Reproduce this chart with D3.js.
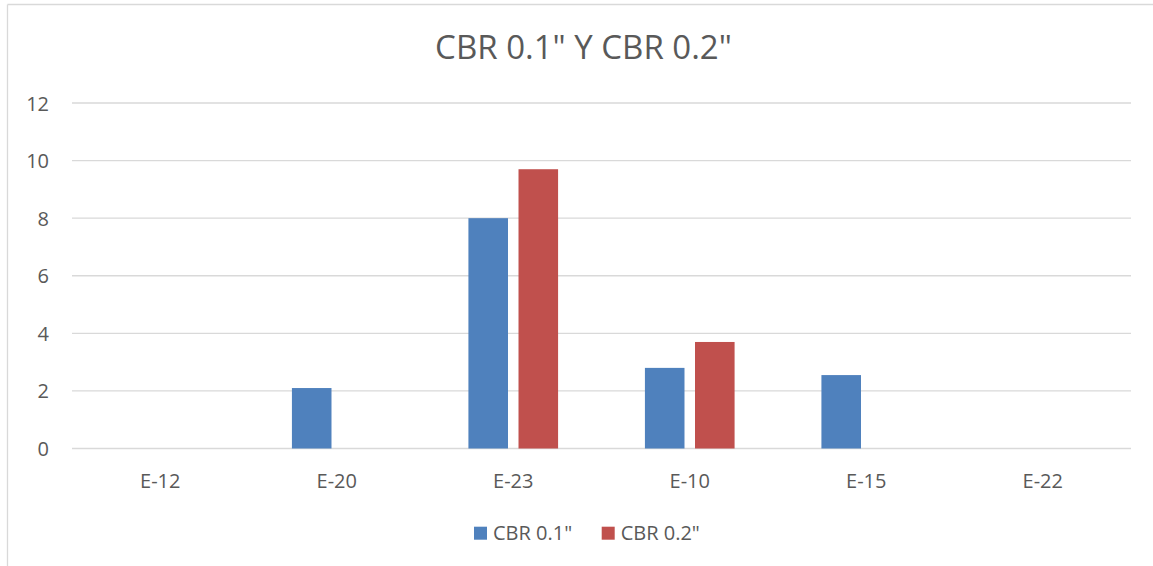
<!DOCTYPE html>
<html>
<head>
<meta charset="utf-8">
<script src="https://cdn.jsdelivr.net/npm/d3@7"></script>
<style>
  html, body { margin: 0; padding: 0; background: #fff; }
  svg { display: block; }
  text { font-family: "Open Sans", "Liberation Sans", sans-serif; fill: #595959; }
</style>
</head>
<body>
<svg id="chart" width="1153" height="566"></svg>
<script>
// Chart data
const title = "CBR 0.1\" Y CBR 0.2\"";
const categories = ["E-12", "E-20", "E-23", "E-10", "E-15", "E-22"];
const seriesNames = ["CBR 0.1\"", "CBR 0.2\""];
const cbr01 = [null, 2.1, 8.0, 2.8, 2.55, null];
const cbr02 = [null, null, 9.7, 3.7, null, null];
const yTicks = [0, 2, 4, 6, 8, 10, 12];
const colors = ["#4f81bd", "#c0504d"];

const svg = d3.select("#chart");
const W = 1153, H = 566;

// Chart frame (light border on top and left)
svg.append("line").attr("x1", 7.5).attr("x2", W).attr("y1", 4.5).attr("y2", 4.5)
  .attr("stroke", "#d9d9d9").attr("stroke-width", 1.3);
svg.append("line").attr("x1", 7.5).attr("x2", 7.5).attr("y1", 4.5).attr("y2", H)
  .attr("stroke", "#d9d9d9").attr("stroke-width", 1.3);

const plot = { left: 72, right: 1131, top: 103, bottom: 448.5 };

const x = d3.scaleBand().domain(categories).range([plot.left, plot.right]).padding(0);
const groupW = x.bandwidth() * 0.508;
const xs = d3.scaleBand().domain(seriesNames).range([0, groupW]).paddingInner(0.21);
const y = d3.scaleLinear().domain([0, 12]).range([plot.bottom, plot.top]);

// Gridlines
svg.append("g").selectAll("line").data(yTicks).join("line")
  .attr("x1", plot.left).attr("x2", plot.right)
  .attr("y1", d => y(d)).attr("y2", d => y(d))
  .attr("stroke", "#d9d9d9").attr("stroke-width", 1.3);

// Y axis labels
const yAxis = d3.axisLeft(y).tickValues(yTicks).tickSize(0).tickPadding(0);
const gy = svg.append("g").attr("transform", "translate(49,0)").call(yAxis);
gy.select(".domain").remove();
gy.selectAll("text").attr("font-size", 20).attr("font-family", "Open Sans").attr("fill", "#595959").attr("dy", "0.35em");

// X axis labels
const xAxis = d3.axisBottom(x).tickSize(0).tickPadding(0);
const gx = svg.append("g").attr("transform", "translate(0,488)").call(xAxis);
gx.select(".domain").remove();
gx.selectAll("text").attr("font-size", 20).attr("font-family", "Open Sans").attr("fill", "#595959").attr("dy", 0);

// Bars
const seriesData = [cbr01, cbr02];
seriesData.forEach((vals, si) => {
  const rows = categories.map((c, i) => ({ c, v: vals[i] })).filter(d => d.v != null);
  svg.append("g").selectAll("rect").data(rows).join("rect")
    .attr("x", d => x(d.c) + (x.bandwidth() - groupW) / 2 + xs(seriesNames[si]))
    .attr("width", xs.bandwidth())
    .attr("y", d => y(d.v))
    .attr("height", d => y(0) - y(d.v))
    .attr("fill", colors[si]);
});

// Title
svg.append("text").attr("x", 583.5).attr("y", 59.3).attr("text-anchor", "middle")
  .attr("font-size", 33).text(title);

// Legend
const legendX = [474, 601.7];
const lg = svg.append("g");
seriesNames.forEach((name, i) => {
  lg.append("rect").attr("x", legendX[i]).attr("y", 526.7).attr("width", 13).attr("height", 13)
    .attr("fill", colors[i]);
  lg.append("text").attr("x", legendX[i] + 19).attr("y", 540).attr("font-size", 20).text(name);
});
</script>
</body>
</html>
